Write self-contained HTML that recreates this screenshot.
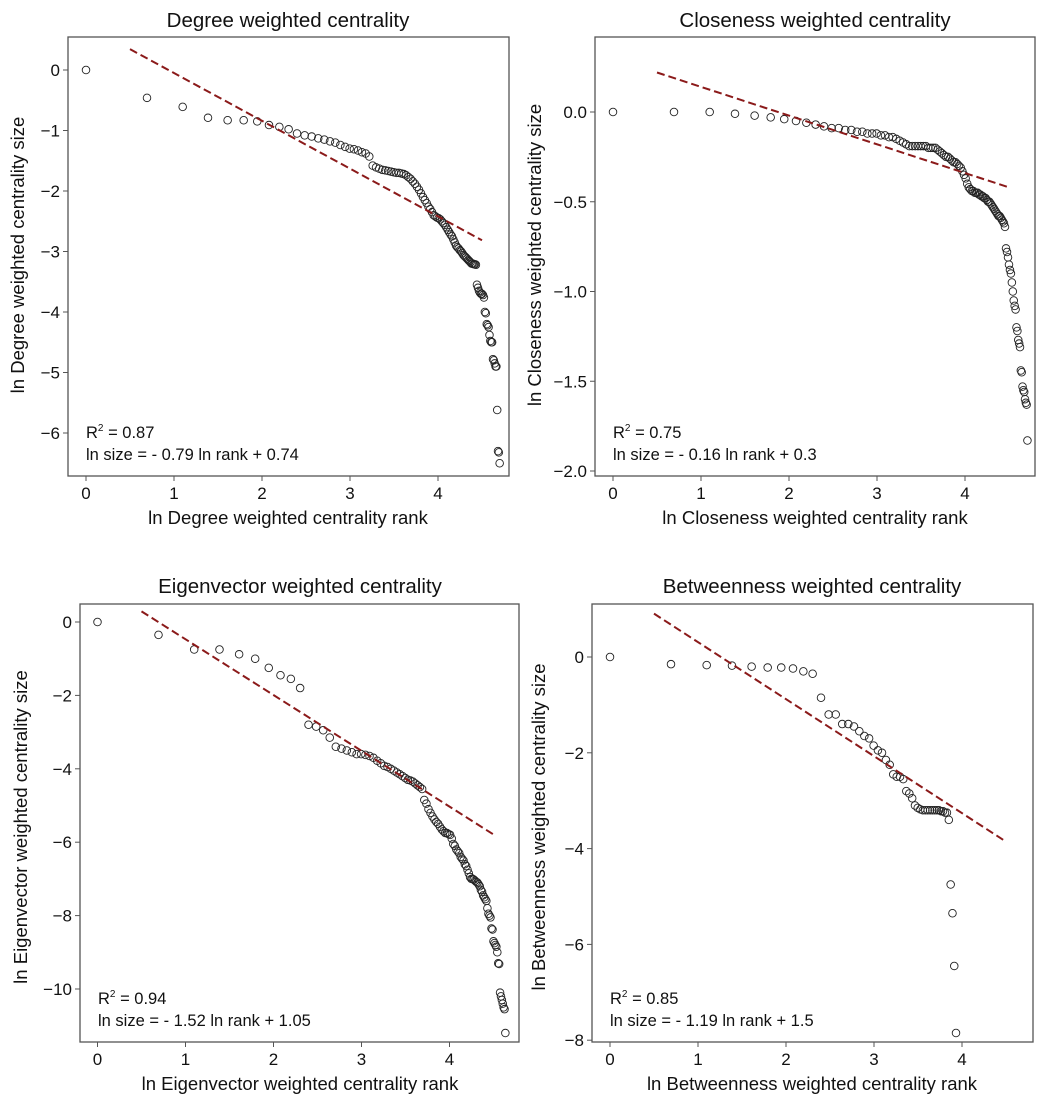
<!DOCTYPE html>
<html><head><meta charset="utf-8"><style>
body{margin:0;background:#fff;}
svg text{font-family:"Liberation Sans",Arial,sans-serif;fill:#111;}
</style></head><body>
<svg id="chart" width="1050" height="1104" viewBox="0 0 1050 1104" xmlns="http://www.w3.org/2000/svg"></svg>
<script>
const degreeSizes = [0,-0.46,-0.61,-0.79,-0.83,-0.83,-0.85,-0.91,-0.94,-0.98,
-1.05,-1.08,-1.1,-1.13,-1.15,-1.18,-1.2,-1.24,-1.27,-1.3,
-1.31,-1.33,-1.36,-1.38,-1.43,
-1.58,-1.61,-1.63,-1.65,-1.66,-1.67,-1.68,-1.69,-1.7,-1.7,-1.71,-1.72,-1.74,-1.77,-1.8,
-1.84,-1.88,-1.93,-1.98,-2.04,-2.1,-2.15,-2.2,-2.26,-2.3,-2.35,-2.4,-2.42,-2.44,-2.45,
-2.47,-2.5,-2.53,-2.56,-2.6,-2.64,-2.68,-2.72,-2.75,-2.8,-2.85,-2.9,-2.93,-2.95,-2.98,
-3.0,-3.03,-3.06,-3.08,-3.1,-3.12,-3.14,-3.16,-3.18,-3.2,-3.2,-3.21,-3.21,-3.22,
-3.55,-3.6,-3.65,-3.68,-3.7,-3.7,-3.72,-3.76,
-4.0,-4.02,-4.2,-4.22,-4.25,-4.38,-4.48,-4.5,
-4.5,-4.78,-4.8,-4.85,-4.9,-4.9,-5.62,-6.3,-6.32,-6.5];
const closenessSizes = [0,0,0,-0.01,-0.02,-0.03,-0.04,-0.05,-0.06,-0.07,
-0.08,-0.09,-0.09,-0.1,-0.1,-0.11,-0.11,-0.12,-0.12,-0.12,
-0.13,-0.13,-0.14,-0.14,-0.15,-0.16,-0.17,-0.18,-0.19,-0.19,
-0.19,-0.19,-0.19,-0.19,-0.19,-0.2,-0.2,-0.2,-0.2,-0.21,
-0.22,-0.23,-0.24,-0.25,-0.25,-0.26,-0.27,-0.28,-0.28,-0.29,
-0.3,-0.31,-0.33,-0.35,-0.37,-0.4,-0.42,-0.43,-0.44,-0.44,
-0.45,-0.45,-0.45,-0.46,-0.46,-0.47,-0.47,-0.48,-0.48,-0.49,
-0.5,-0.5,-0.51,-0.52,-0.53,-0.54,-0.55,-0.56,-0.57,-0.58,
-0.58,-0.59,-0.6,-0.61,-0.62,-0.64,-0.76,-0.78,-0.81,-0.85,
-0.88,-0.9,-0.95,-1.0,-1.05,-1.08,-1.1,-1.2,-1.22,-1.27,
-1.29,-1.31,-1.44,-1.45,-1.53,-1.55,-1.56,-1.6,-1.62,-1.63,-1.83];
const eigenSizes = [0,-0.35,-0.75,-0.75,-0.88,-1.0,-1.25,-1.45,-1.55,-1.8,
-2.8,-2.85,-2.95,-3.15,-3.4,-3.45,-3.5,-3.55,-3.6,-3.6,
-3.62,-3.65,-3.7,-3.78,-3.85,-3.92,-3.95,-4.0,-4.05,-4.1,
-4.15,-4.2,-4.25,-4.3,-4.32,-4.35,-4.4,-4.45,-4.5,-4.55,
-4.85,-4.95,-5.1,-5.2,-5.3,-5.38,-5.45,-5.5,-5.58,-5.65,
-5.7,-5.75,-5.75,-5.78,-5.8,-5.9,-6.05,-6.1,-6.2,-6.25,
-6.3,-6.4,-6.45,-6.5,-6.6,-6.65,-6.75,-6.85,-6.95,-7.0,
-7.0,-7.02,-7.05,-7.08,-7.1,-7.15,-7.2,-7.3,-7.35,-7.45,
-7.5,-7.55,-7.6,-7.8,-7.95,-8.0,-8.05,-8.35,-8.38,-8.7,
-8.75,-8.8,-8.85,-9.0,-9.3,-9.32,-10.1,-10.2,-10.3,-10.4,-10.5,-10.55,-11.2];
const betweenSizes = [0,-0.15,-0.17,-0.18,-0.2,-0.22,-0.22,-0.24,-0.3,-0.35,
-0.85,-1.2,-1.2,-1.4,-1.4,-1.45,-1.55,-1.65,-1.7,-1.85,
-1.95,-2.0,-2.15,-2.25,-2.45,-2.5,-2.5,-2.55,-2.8,-2.85,
-2.95,-3.1,-3.15,-3.18,-3.2,-3.2,-3.2,-3.2,-3.2,-3.2,
-3.2,-3.2,-3.22,-3.22,-3.25,-3.25,-3.4,-4.75,-5.35,-6.45,-7.85];
const xTicks = [0,1,2,3,4];
const degreeYTicks = [0,-1,-2,-3,-4,-5,-6];
const closenessYTicks = [0,-0.5,-1,-1.5,-2];
const closenessYLabels = ["0.0","-0.5","-1.0","-1.5","-2.0"];
const eigenYTicks = [0,-2,-4,-6,-8,-10];
const betweenYTicks = [0,-2,-4,-6,-8];
const fitSlopes = [-0.79,-0.16,-1.52,-1.19];
const fitIntercepts = [0.74,0.3,1.05,1.5];
const r2Values = ["0.87","0.75","0.94","0.85"];

const NS="http://www.w3.org/2000/svg";
const svg=document.getElementById('chart');
function mk(tag,attrs,parent,text){const e=document.createElementNS(NS,tag);for(const k in attrs)e.setAttribute(k,attrs[k]);if(text!==undefined)e.textContent=text;(parent||svg).appendChild(e);return e;}

const panels=[
 {key:'degree',name:'Degree',data:degreeSizes,yt:degreeYTicks,yl:degreeYTicks.map(v=>v===0?'0':'\u2212'+(-v)),
  box:[68,37,509,476],x0:86,xs:88,y0:70,ys:60.5,title:[288,27],ytitle:[24,255],xtitle:[288,524],ann:[86,438]},
 {key:'closeness',name:'Closeness',data:closenessSizes,yt:closenessYTicks,yl:closenessYLabels.map(s=>s.replace('-','\u2212')),
  box:[595,37,1035,476],x0:613,xs:88,y0:112,ys:179.5,title:[815,27],ytitle:[541,255],xtitle:[815,524],ann:[613,438]},
 {key:'eigenvector',name:'Eigenvector',data:eigenSizes,yt:eigenYTicks,yl:eigenYTicks.map(v=>v===0?'0':'\u2212'+(-v)),
  box:[80,604,519,1042],x0:97.5,xs:88,y0:622,ys:36.7,title:[300,593],ytitle:[27,827],xtitle:[300,1090],ann:[98,1004]},
 {key:'betweenness',name:'Betweenness',data:betweenSizes,yt:betweenYTicks,yl:betweenYTicks.map(v=>v===0?'0':'\u2212'+(-v)),
  box:[592,604,1033,1042],x0:610,xs:88,y0:657,ys:47.9,title:[812,593],ytitle:[545,827],xtitle:[812,1090],ann:[610,1004]}
];

panels.forEach((p,pi)=>{
 const g=mk('g',{});
 
 
 const X=v=>p.x0+v*p.xs, Y=v=>p.y0-v*p.ys;
 const [l,t,r,b]=p.box;
 const frame=mk('rect',{x:l,y:t,width:r-l,height:b-t,fill:'none',stroke:'#555','stroke-width':1.3},g);
 
 
 const tt=mk('text',{x:p.title[0],y:p.title[1],'text-anchor':'middle','font-size':20.5},g,p.name+' weighted centrality');
 
 
 xTicks.forEach(v=>{
  mk('line',{x1:X(v),x2:X(v),y1:b,y2:b+5,stroke:'#555'},g);
  const tl=mk('text',{x:X(v),y:b+23,'text-anchor':'middle','font-size':17},g,String(v));
  
  
 });
 p.yt.forEach((v,i)=>{
  mk('line',{x1:l-5,x2:l,y1:Y(v),y2:Y(v),stroke:'#555'},g);
  const tl=mk('text',{x:l-8,y:Y(v)+6,'text-anchor':'end','font-size':17},g,p.yl[i]);
  
  
 });
 const xt=mk('text',{x:p.xtitle[0],y:p.xtitle[1],'text-anchor':'middle','font-size':18.5},g,'ln '+p.name+' weighted centrality rank');
 
 
 const yt=mk('text',{x:0,y:0,'text-anchor':'middle','font-size':18.5,transform:`translate(${p.ytitle[0]},${p.ytitle[1]}) rotate(-90)`},g,'ln '+p.name+' weighted centrality size');
 
 
 p.data.forEach((v,i)=>{
  const c=mk('circle',{cx:X(Math.log(i+1)),cy:Y(v),r:3.8,fill:'none',stroke:'#222','stroke-width':0.9},g);
  
  
 });
 const a=fitSlopes[pi], c0=fitIntercepts[pi];
 const fl=mk('line',{x1:X(0.5),y1:Y(c0+a*0.5),x2:X(4.5),y2:Y(c0+a*4.5),stroke:'#8b1a1a','stroke-width':2,'stroke-dasharray':'8,4'},g);
 
 
 const r2=mk('text',{x:p.ann[0],y:p.ann[1],'font-size':16.5},g);
 
 
 mk('tspan',{},r2,'R');
 mk('tspan',{dy:-7,'font-size':10},r2,'2');
 mk('tspan',{dy:7},r2,' = '+r2Values[pi]);
 const eq=mk('text',{x:p.ann[0],y:p.ann[1]+22,'font-size':16.5},g,'ln size = - '+Math.abs(a).toFixed(2)+' ln rank + '+c0);
 
 
});
</script>
</body></html>
